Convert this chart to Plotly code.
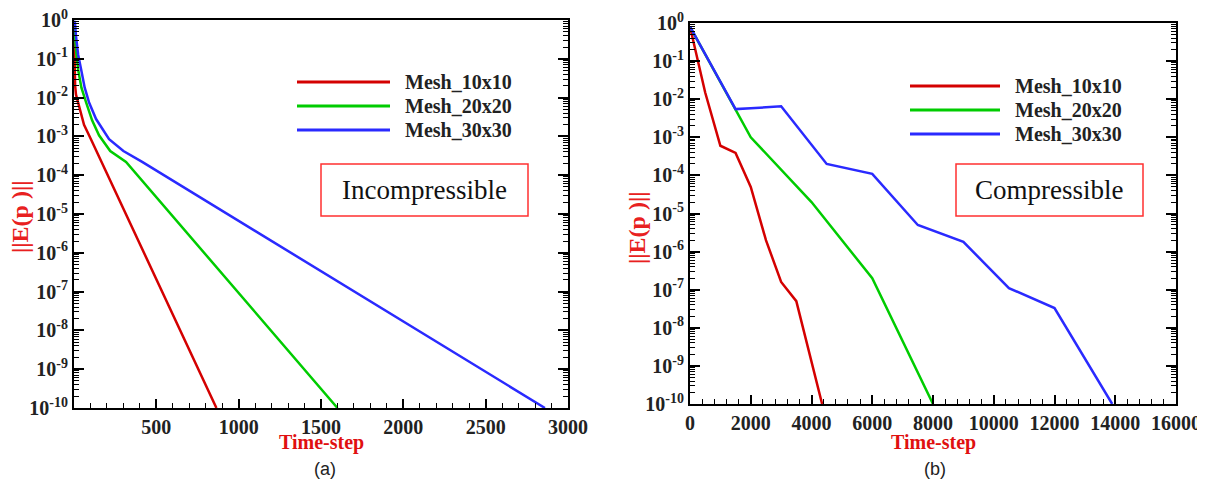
import plotly.graph_objects as go

# ---------------- data ----------------
series_names = ["Mesh_10x10", "Mesh_20x20", "Mesh_30x30"]

# (a) Incompressible
inc_steps_10 = [0, 2, 4, 7, 12, 20, 30, 45, 61, 100, 865]
inc_err_10 = [0.5, 0.15, 0.05, 0.02, 0.012, 0.009, 7e-3, 3.5e-3, 2e-3, 9e-4, 1e-10]

inc_steps_20 = [0, 4, 12, 25, 45, 73, 110, 152, 220, 316, 1600]
inc_err_20 = [0.8, 0.35, 0.17, 0.053, 0.018, 7.6e-3, 2.6e-3, 1.07e-3, 4.2e-4, 2.2e-4, 1e-10]

inc_steps_30 = [0, 6, 12, 25, 43, 65, 91, 134, 213, 300, 414, 2860]
inc_err_30 = [0.95, 0.85, 0.39, 0.13, 0.054, 0.018, 7.6e-3, 2.8e-3, 8.5e-4, 4.2e-4, 2.2e-4, 1e-10]

# (b) Compressible
comp_steps_10 = [0, 500, 1000, 1500, 2000, 2500, 3000, 3500, 4350]
comp_err_10 = [0.8, 0.015, 6e-4, 3.9e-4, 5e-5, 2e-6, 1.6e-7, 5e-8, 1e-10]

comp_steps_20 = [0, 1500, 2000, 4000, 6000, 8000]
comp_err_20 = [0.8, 5.5e-3, 1e-3, 2e-5, 2e-7, 1e-10]

comp_steps_30 = [0, 1500, 2000, 3000, 4500, 6000, 7500, 9000, 10500, 12000, 13900]
comp_err_30 = [0.8, 5.5e-3, 5.8e-3, 6.5e-3, 2e-4, 1.1e-4, 5e-6, 1.8e-6, 1.1e-7, 3.3e-8, 1e-10]

y_exponents = list(range(0, -11, -1))
y_tick_text = ["10<sup>%d</sup>" % e for e in y_exponents]
x_ticks_a = [500, 1000, 1500, 2000, 2500, 3000]
x_ticks_b = [0, 2000, 4000, 6000, 8000, 10000, 12000, 14000, 16000]

# ---------------- figure ----------------
# the page body has an 8px margin, so the figure is drawn 8px in from the corner
OX, OY = 8, 8
W, H = 1197, 473
def px(x): return (x - OX) / W
def py(y): return 1 - (y - OY) / H

colors = ["#d40000", "#00cc00", "#2a2aff"]
fig = go.Figure()

inc = [(inc_steps_10, inc_err_10), (inc_steps_20, inc_err_20), (inc_steps_30, inc_err_30)]
comp = [(comp_steps_10, comp_err_10), (comp_steps_20, comp_err_20), (comp_steps_30, comp_err_30)]
for (xs, ys), c, n in zip(inc, colors, series_names):
    fig.add_trace(go.Scatter(x=xs, y=ys, mode="lines", name=n, showlegend=False,
                             line=dict(color=c, width=2.5), xaxis="x", yaxis="y"))
for (xs, ys), c, n in zip(comp, colors, series_names):
    fig.add_trace(go.Scatter(x=xs, y=ys, mode="lines", name=n, showlegend=False,
                             line=dict(color=c, width=2.5), xaxis="x2", yaxis="y2"))

tickfont = dict(family="Liberation Serif", size=20, color="#222", weight="bold")
y_vals = [10.0 ** e for e in y_exponents]
y_minor = [m * 10.0 ** e for e in range(-10, 0) for m in range(2, 10)]

def yaxis(domain, anchor):
    return dict(type="log", range=[-10, 0], domain=domain, anchor=anchor,
                tickmode="array", tickvals=y_vals, ticktext=y_tick_text,
                ticks="inside", ticklen=10, tickwidth=1.5, tickcolor="black",
                minor=dict(tickmode="array", tickvals=y_minor, ticks="inside",
                           ticklen=5, tickwidth=1, tickcolor="black"),
                showline=True, linewidth=2, linecolor="black", mirror="ticks",
                showgrid=False, zeroline=False, tickfont=tickfont, automargin=False,
                ticklabeloverflow="allow")

def xaxis(domain, anchor, rng, tv, minor_dtick):
    return dict(range=rng, domain=domain, anchor=anchor,
                tickmode="array", tickvals=tv, ticktext=[str(v) for v in tv],
                ticks="inside", ticklen=9, tickwidth=1.5, tickcolor="black",
                minor=dict(dtick=minor_dtick, tick0=0, ticks="inside",
                           ticklen=5, tickwidth=1, tickcolor="black"),
                showline=True, linewidth=2, linecolor="black", mirror=True,
                showgrid=False, zeroline=False, tickfont=tickfont, automargin=False,
                ticklabeloverflow="allow")

fig.update_layout(
    width=W, height=H, margin=dict(l=0, r=0, t=0, b=0, autoexpand=False),
    paper_bgcolor="white", plot_bgcolor="white", showlegend=False,
    xaxis=xaxis([px(74), px(568)], "y", [0, 3000], x_ticks_a, 100),
    yaxis=yaxis([py(408), py(20)], "x"),
    xaxis2=xaxis([px(690), px(1176)], "y2", [0, 16000], x_ticks_b, 400),
    yaxis2=yaxis([py(404), py(23)], "x2"),
)

shapes = []
annotations = []
legend_font = dict(family="Liberation Serif", size=20, color="#222", weight="bold")
red_title = dict(family="Liberation Serif", size=20, color="#e01010", weight="bold")

# legends
for (x0, x1, ys, tx) in [(297, 390, [82, 106, 130], 403), (910, 1000, [86, 110, 134], 1013)]:
    for yy, c, n in zip(ys, colors, series_names):
        shapes.append(dict(type="line", xref="paper", yref="paper",
                           x0=px(x0), x1=px(x1), y0=py(yy), y1=py(yy),
                           line=dict(color=c, width=3)))
        annotations.append(dict(text=n, xref="paper", yref="paper", x=px(tx), y=py(yy),
                                xanchor="left", yanchor="middle", showarrow=False,
                                font=legend_font))

# labelled boxes
for (x0, x1, y0, y1, t) in [(321, 528, 164, 216, "Incompressible"), (956, 1143, 164, 216, "Compressible")]:
    shapes.append(dict(type="rect", xref="paper", yref="paper",
                       x0=px(x0), x1=px(x1), y0=py(y1), y1=py(y0),
                       line=dict(color="#ff3030", width=1.5), fillcolor="white"))
    annotations.append(dict(text=t, xref="paper", yref="paper", x=px((x0 + x1) / 2),
                            y=py((y0 + y1) / 2), xanchor="center", yanchor="middle",
                            showarrow=False,
                            font=dict(family="Liberation Serif", size=27, color="#111")))

# axis titles
for cx in [321, 933]:
    annotations.append(dict(text="Time-step", xref="paper", yref="paper", x=px(cx), y=py(442),
                            xanchor="center", yanchor="middle", showarrow=False, font=red_title))
for (cx, cy) in [(20, 217), (637, 228)]:
    annotations.append(dict(text="||E(p )||", xref="paper", yref="paper", x=px(cx), y=py(cy),
                            xanchor="center", yanchor="middle", showarrow=False, textangle=-90,
                            font=dict(family="Liberation Serif", size=24, color="#e82020",
                                      weight="bold")))

# captions
for (cx, t) in [(325, "(a)"), (935, "(b)")]:
    annotations.append(dict(text=t, xref="paper", yref="paper", x=px(cx), y=py(469),
                            xanchor="center", yanchor="middle", showarrow=False,
                            font=dict(family="Liberation Sans", size=18, color="#222")))

fig.update_layout(shapes=shapes, annotations=annotations)
fig.write_html("out.html")
